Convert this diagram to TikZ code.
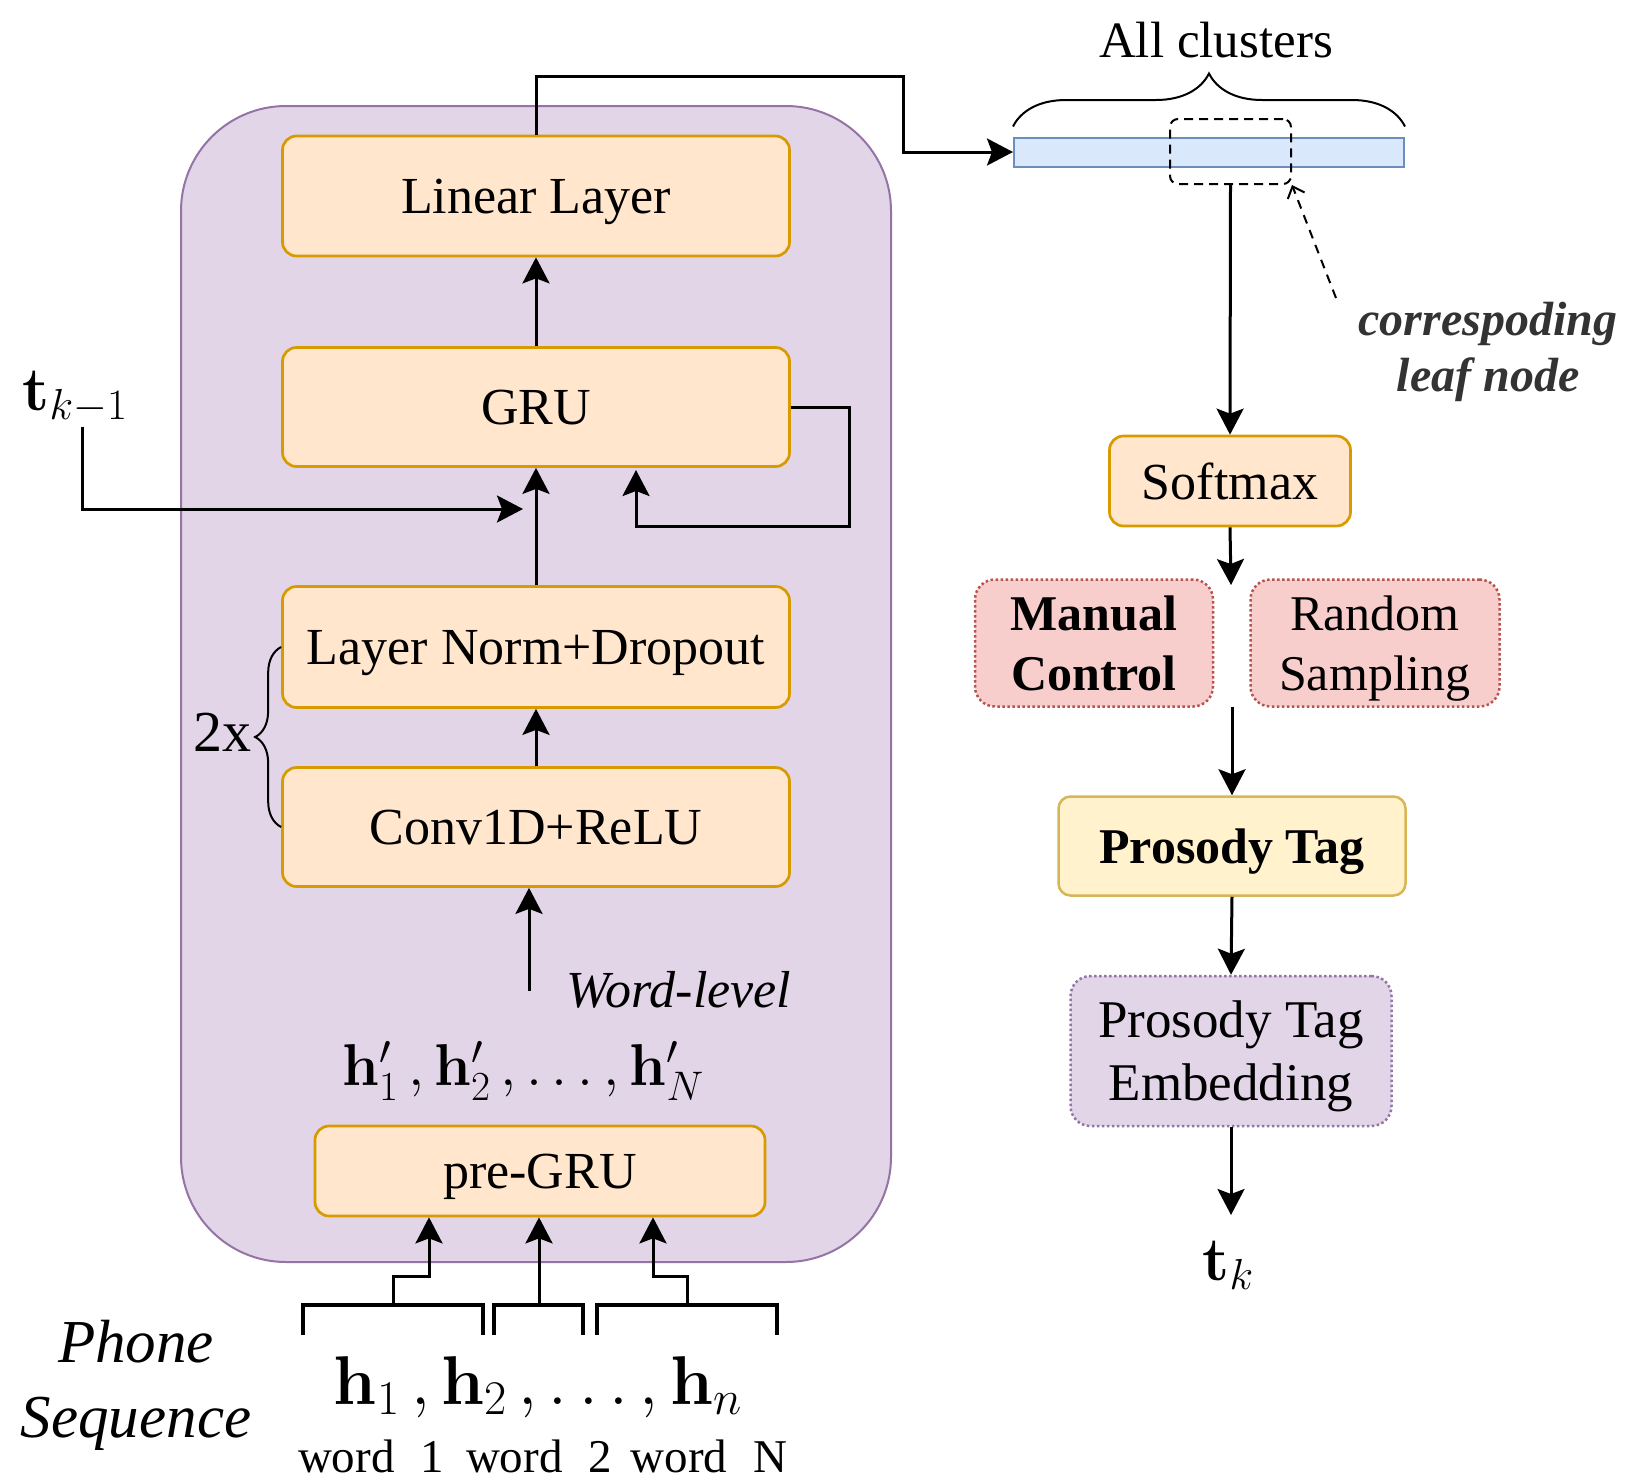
\documentclass[tikz,border=0pt]{standalone}
\usepackage{fix-cm}
\usepackage{amsmath}
\usepackage[no-math]{fontspec}
\setmainfont{Liberation Serif}
\usepackage{tikz}
\usetikzlibrary{shapes, arrows.meta, positioning, decorations.pathreplacing}
\definecolor{lilac}{HTML}{E1D5E7}
\definecolor{lilacline}{HTML}{9673A6}
\definecolor{peach}{HTML}{FFE6CC}
\definecolor{peachline}{HTML}{D79B00}
\definecolor{skyfill}{HTML}{DAE8FC}
\definecolor{skyline}{HTML}{6C8EBF}
\definecolor{rosefill}{HTML}{F8CECC}
\definecolor{roseline}{HTML}{B85450}
\definecolor{creamfill}{HTML}{FFF2CC}
\definecolor{creamline}{HTML}{D6B656}
\tikzstyle{container} = [rectangle, draw = lilacline, fill = lilac, line width = 2pt, rounded corners = 105pt, minimum width = 710pt, minimum height = 1156pt]
\tikzstyle{block} = [rectangle, draw = peachline, fill = peach, line width = 2.7pt, rounded corners = 14pt, minimum width = 507pt, minimum height = 120pt, inner sep = 0pt, text depth = 0pt, font = \fontsize{52}{62}\selectfont]
\tikzstyle{clusters} = [rectangle, draw = skyline, fill = skyfill, line width = 2pt, minimum width = 390pt, minimum height = 29pt, inner sep = 0pt]
\tikzstyle{leafbox} = [rectangle, draw, dash pattern = on 9pt off 6pt, line width = 2pt, rounded corners = 8pt, minimum width = 121pt, minimum height = 65pt]
\tikzstyle{choice} = [rectangle, draw = roseline, fill = rosefill, line width = 2.5pt, dash pattern = on 2.5pt off 2.5pt, rounded corners = 20pt, minimum height = 127pt, inner sep = 0pt, text depth = 0pt, align = center, font = \fontsize{50}{60}\selectfont]
\tikzstyle{tagbox} = [rectangle, draw = creamline, fill = creamfill, line width = 2.5pt, rounded corners = 12pt, minimum width = 347pt, minimum height = 99pt, text depth = 0pt, font = \fontsize{50}{60}\selectfont\bfseries]
\tikzstyle{embedbox} = [rectangle, draw = lilacline, fill = lilac, line width = 2.5pt, dash pattern = on 2.5pt off 2.5pt, rounded corners = 20pt, minimum width = 321pt, minimum height = 150pt, inner sep = 0pt, text depth = 0pt, align = center, font = \fontsize{53}{63}\selectfont]
\tikzstyle{line2} = [draw, line width = 3pt, -{Stealth[length = 26pt, width = 27pt, inset = 5pt]}]
\tikzstyle{line3} = [draw, line width = 2pt, dash pattern = on 9pt off 7pt, -{Straight Barb[length = 10pt, width = 18pt]}]
\tikzstyle{bracket} = [draw, line width = 4.5pt]
\tikzstyle{curly} = [draw, line width = 2pt, decorate]

\begin{document}
\begin{tikzpicture}[x = 1pt, y = -1pt]
			\useasboundingbox (0, 0) rectangle (1639, 1481);
			% Place nodes
			\node [container] (model) at (536, 684) {};
			\node [block] (linear) at (536, 196) {Linear Layer};
			\node [block, minimum height = 119pt] (gru) at (536, 407) {GRU};
			\node [block, minimum height = 121pt] (ln) at (536, 647) {Layer Norm+Dropout};
			\node [block, minimum height = 119pt] (conv) at (536, 827) {Conv1D+ReLU};
			\node [block, minimum width = 450pt, minimum height = 90pt] (pregru) at (540, 1171) {pre-GRU};
			\node [clusters] (bar) at (1209, 152) {};
			\node [leafbox] (leaf) at (1230.5, 151.5) {};
			\node [block, minimum width = 241pt, minimum height = 90pt] (softmax) at (1230, 481) {Softmax};
			\node [choice, minimum width = 238pt] (manual) at (1094, 643) {\textbf{Manual}\\\textbf{Control}};
			\node [choice, minimum width = 249pt] (random) at (1375, 643) {Random\\Sampling};
			\node [tagbox] (tag) at (1232, 846) {Prosody Tag};
			\node [embedbox] (emb) at (1231, 1051) {Prosody Tag\\Embedding};
			\node [font = \fontsize{51}{60}\selectfont] (allc) at (1216, 40) {All clusters};
			\node [align = center, text = black!80, font = \fontsize{48}{56}\selectfont\bfseries\itshape] (corr) at (1488, 352) {correspoding\\leaf node};
			\node [font = \fontsize{62}{70}\selectfont] (tkm) at (75, 397) {$\mathbf{t}_{k-1}$};
			\node [font = \fontsize{62}{70}\selectfont] (tk) at (1228, 1265) {$\mathbf{t}_k$};
			\node [font = \fontsize{58}{66}\selectfont] (twox) at (222, 732) {2x};
			\node [font = \fontsize{52}{60}\selectfont\itshape] (wordlvl) at (679, 990) {Word-level};
			\node [font = \fontsize{59}{66}\selectfont] (hprime) at (523, 1071) {$\mathbf{h}'_1\,, \mathbf{h}'_2\,, \ldots, \mathbf{h}'_N$};
			\node [font = \fontsize{69}{78}\selectfont] (hseq) at (538, 1387) {$\mathbf{h}_1\,, \mathbf{h}_2\,, \ldots, \mathbf{h}_n$};
			\node [font = \fontsize{47}{56}\selectfont] (word1) at (371, 1456) {word\hspace{0.55em}1};
			\node [font = \fontsize{47}{56}\selectfont] (word2) at (539, 1456) {word\hspace{0.55em}2};
			\node [font = \fontsize{47}{56}\selectfont] (wordN) at (709, 1456) {word\hspace{0.55em}N};
			\node [align = center, font = \fontsize{61}{75}\selectfont\itshape] (phone) at (136, 1385) {Phone\\Sequence};
			% Turning points
			\coordinate (topturn) at (903, 76);
			\coordinate (fbturn) at (849, 526);
			\coordinate (fbend) at (636, 470);
			\coordinate (tkmend) at (523, 509);
			\coordinate (wordin) at (529, 991);
			\coordinate (selin) at (1231, 585);
			\coordinate (selout) at (1232, 707);
			\coordinate (tkin) at (1231, 1215);
			\coordinate (corrstart) at (1336, 298);
			\coordinate (w1) at (393, 1305);
			\coordinate (w1k) at (429, 1276);
			\coordinate (w2) at (539, 1305);
			\coordinate (w3) at (687, 1305);
			\coordinate (w3k) at (653, 1276);
			% Braces and brackets
			\path [curly, decoration = {brace, amplitude = 53pt}] ([yshift = 10pt]bar.north west) -- ([yshift = 10pt]bar.north east);
			\path [curly, decoration = {brace, amplitude = 26pt}] (conv.west) -- (ln.west);
			\path [bracket] (303, 1335) -- (303, 1305) -- (483, 1305) -- (483, 1335);
			\path [bracket] (494, 1335) -- (494, 1305) -- (583, 1305) -- (583, 1335);
			\path [bracket] (597, 1335) -- (597, 1305) -- (777, 1305) -- (777, 1335);
			% Draw edges
			\path [line2] (w1) |- (w1k) -- (w1k |- pregru.south);
			\path [line2] (w2) -- (w2 |- pregru.south);
			\path [line2] (w3) |- (w3k) -- (w3k |- pregru.south);
			\path [line2] (wordin) -- (wordin |- conv.south);
			\path [line2] (conv) -- (ln);
			\path [line2] (ln) -- (gru);
			\path [line2] (gru) -- (linear);
			\path [line2] (gru.east) -| (fbturn) -| (fbend);
			\path [line2] ([xshift = 7pt]tkm.south) |- (tkmend);
			\path [line2] (linear.north) |- (topturn) |- (bar.west);
			\path [line2] (leaf.south) -- (softmax.north);
			\path [line3] (corrstart) -- (leaf.south east);
			\path [line2] (softmax.south) -- (selin);
			\path [line2] (selout) -- (tag.north);
			\path [line2] (tag.south) -- (emb.north);
			\path [line2] (emb.south) -- (tkin);
\end{tikzpicture}
\end{document}
